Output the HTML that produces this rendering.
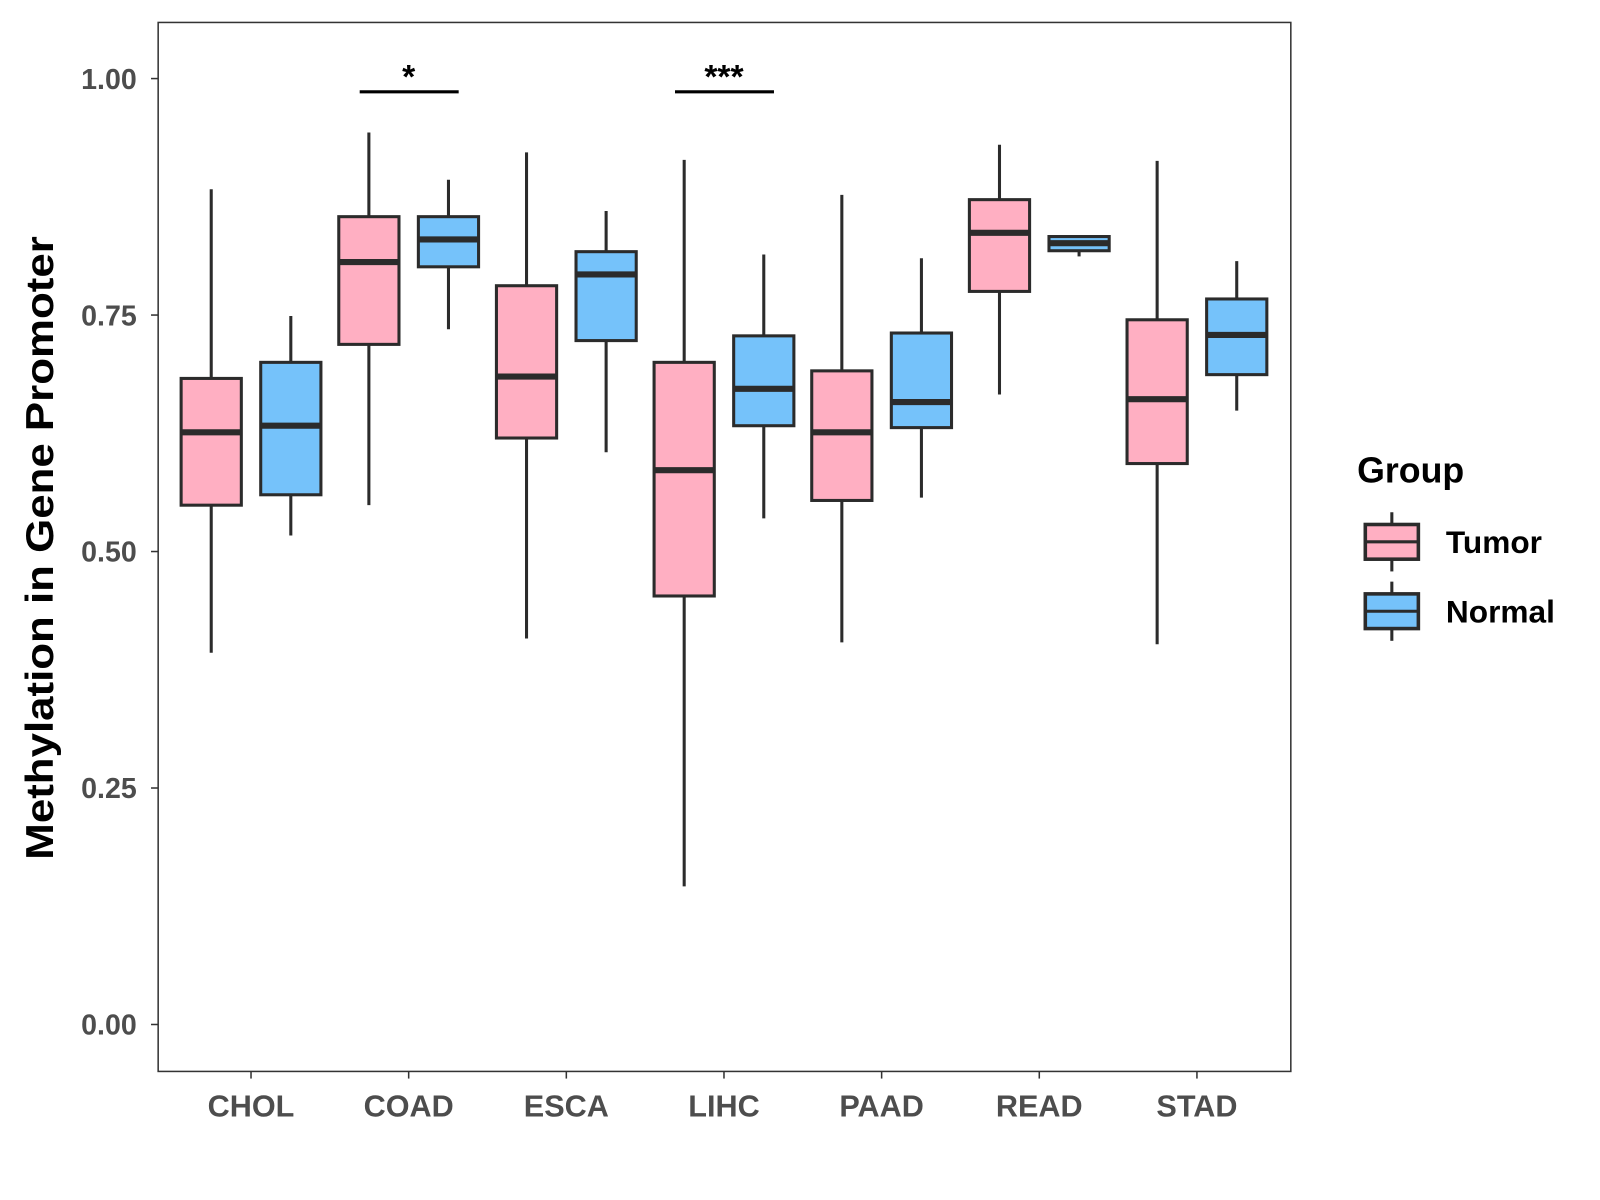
<!DOCTYPE html>
<html><head><meta charset="utf-8"><style>html,body{margin:0;padding:0;background:#fff}svg{display:block}text{font-family:"Liberation Sans",Arial,sans-serif;font-weight:bold}</style></head>
<body>
<svg id="chart" width="1600" height="1200" viewBox="0 0 1568 1176" xmlns="http://www.w3.org/2000/svg">
<rect x="155" y="22" width="1110" height="1028" fill="#fff" stroke="#333" stroke-width="1.5"/>
<g id="g"></g>
<text transform="translate(52,537) rotate(-90)" text-anchor="middle" font-size="38" fill="#000" textLength="611" lengthAdjust="spacingAndGlyphs">Methylation in Gene Promoter</text>
<text x="1330" y="473" font-size="35" fill="#000">Group</text>
</svg>
<script>
const categories=["CHOL","COAD","ESCA","LIHC","PAAD","READ","STAD"];
const tumorLow=[0.393,0.549,0.408,0.146,0.404,0.666,0.402];
const tumorQ1=[0.549,0.719,0.620,0.453,0.554,0.775,0.593];
const tumorMed=[0.626,0.806,0.685,0.586,0.626,0.837,0.661];
const tumorQ3=[0.683,0.854,0.781,0.700,0.691,0.872,0.745];
const tumorHigh=[0.883,0.943,0.922,0.914,0.877,0.930,0.913];
const normalLow=[0.517,0.735,0.605,0.535,0.557,0.812,0.649];
const normalQ1=[0.560,0.801,0.723,0.633,0.631,0.818,0.687];
const normalMed=[0.633,0.830,0.793,0.672,0.658,0.826,0.729];
const normalQ3=[0.700,0.854,0.817,0.728,0.731,0.833,0.767];
const normalHigh=[0.749,0.893,0.860,0.814,0.810,0.833,0.807];
const yTicks=[0,0.25,0.5,0.75,1.0];
const yTickLabels=["0.00","0.25","0.50","0.75","1.00"];
const sigCats=["COAD","LIHC"];
const sigLabels=["*","***"];
const ns="http://www.w3.org/2000/svg",g=document.getElementById('g');
const y=v=>1004-v*927;
const x=i=>246+i*154.5;
function mk(t,a){const e=document.createElementNS(ns,t);for(const k in a)e.setAttribute(k,a[k]);g.appendChild(e);return e;}
yTicks.forEach((v,i)=>{
 const t=mk('line',{x1:148,x2:155,y1:y(v),y2:y(v),stroke:'#333','stroke-width':1.5});
 
 
 const l=mk('text',{x:134,y:y(v)+10,'text-anchor':'end','font-size':28,fill:'#4d4d4d'});l.textContent=yTickLabels[i];
 
 
});
categories.forEach((c,i)=>{
 const t=mk('line',{x1:x(i),x2:x(i),y1:1050,y2:1057,stroke:'#333','stroke-width':1.5});
 
 
 const l=mk('text',{x:x(i),y:1094,'text-anchor':'middle','font-size':30,fill:'#4d4d4d'});l.textContent=c;
 
 
});
function box(cx,lo,q1,md,q3,hi,fill,name){
 const w=mk('line',{x1:cx,x2:cx,y1:y(lo),y2:y(hi),stroke:'#2b2b2b','stroke-width':3});
 
 
 const r=mk('rect',{x:cx-29.5,y:y(q3),width:59,height:y(q1)-y(q3),fill:fill,stroke:'#2b2b2b','stroke-width':3});
 
 
 const m=mk('line',{x1:cx-29.5,x2:cx+29.5,y1:y(md),y2:y(md),stroke:'#2b2b2b','stroke-width':6});
 
 
}
categories.forEach((c,i)=>{
 box(x(i)-39,tumorLow[i],tumorQ1[i],tumorMed[i],tumorQ3[i],tumorHigh[i],'#ffafc2','tumor-'+c.toLowerCase());
 box(x(i)+39,normalLow[i],normalQ1[i],normalMed[i],normalQ3[i],normalHigh[i],'#75c2fa','normal-'+c.toLowerCase());
});
sigCats.forEach((c,k)=>{
 const i=categories.indexOf(c);
 const b=mk('line',{x1:x(i)-48,x2:x(i)+49,y1:90,y2:90,stroke:'#000','stroke-width':3});
 
 
 const t=mk('text',{x:x(i),y:86,'text-anchor':'middle','font-size':33,fill:'#000'});t.textContent=sigLabels[k];
 
 
});
[["Tumor","#ffafc2",531],["Normal","#75c2fa",599]].forEach(([n,f,cy])=>{
 const w=mk('line',{x1:1364,x2:1364,y1:cy-29,y2:cy+29,stroke:'#2b2b2b','stroke-width':3});
 
 
 const r=mk('rect',{x:1338,y:cy-17,width:52,height:34,fill:f,stroke:'#2b2b2b','stroke-width':3.5});
 
 
 const m=mk('line',{x1:1338,x2:1390,y1:cy,y2:cy,stroke:'#2b2b2b','stroke-width':3});
 
 
 const t=mk('text',{x:1417,y:cy+11,'font-size':31,fill:'#000'});t.textContent=n;
 
 
});
</script>
</body></html>
